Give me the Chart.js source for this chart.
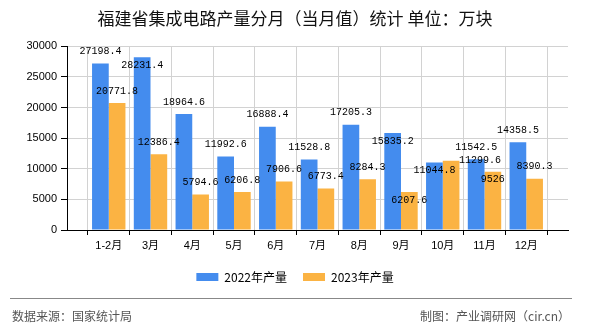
<!DOCTYPE html>
<html>
<head>
<meta charset="utf-8">
<script src="https://cdn.jsdelivr.net/npm/chart.js@4.4.0/dist/chart.umd.min.js"></script>
<style>
  html, body { margin: 0; padding: 0; background: #fff; }
</style>
</head>
<body>
<canvas id="prodChart" width="590" height="330"></canvas>
<script>
// 福建省集成电路产量（万块）
var categories = ['1-2月', '3月', '4月', '5月', '6月', '7月', '8月', '9月', '10月', '11月', '12月'];
var output2022 = [27198.4, 28231.4, 18964.6, 11992.6, 16888.4, 11528.8, 17205.3, 15835.2, 11044.8, 11542.5, 14358.5];
var output2023 = [20771.8, 12386.4, 5794.6, 6206.8, 7906.6, 6773.4, 8284.3, 6207.6, 11299.6, 9526, 8390.3];
var seriesNames = ['2022年产量', '2023年产量'];
var yMax = 30000;
var yStep = 5000;

var CJK = '"Noto Sans CJK SC", "Noto Sans", sans-serif';

// empty slot at each end so the bars sit on the grid lines
var xLabels = [''].concat(categories, ['']);
function pad(arr) { return [null].concat(arr, [null]); }

// where a value label goes, relative to the top of its bar (default [0, -12])
var labelShift = {
  '0-3月': [0, 8],
  '0-9月': [0, 8],
  '1-9月': [0, 8],
  '0-10月': [0, 8],
  '1-10月': [29, 0],
  '1-11月': [0, 8]
};

var barLabels = {
  id: 'barLabels',
  afterDatasetsDraw: function(chart) {
    var ctx = chart.ctx;
    ctx.save();
    ctx.font = '10px "Liberation Mono", monospace';
    ctx.fillStyle = '#000';
    ctx.textAlign = 'center';
    ctx.textBaseline = 'middle';
    chart.data.datasets.forEach(function(ds, di) {
      chart.getDatasetMeta(di).data.forEach(function(bar, i) {
        if (ds.data[i] == null) return;
        var s = labelShift[di + '-' + chart.data.labels[i]] || [0, -12];
        ctx.fillText(String(ds.data[i]), bar.x + s[0], bar.y + s[1]);
      });
    });
    ctx.restore();
  }
};

var footer = {
  id: 'footer',
  afterDraw: function(chart) {
    var ctx = chart.ctx;
    ctx.save();
    ctx.strokeStyle = '#888';
    ctx.lineWidth = 1;
    ctx.beginPath();
    ctx.moveTo(10, 298.5);
    ctx.lineTo(572, 298.5);
    ctx.stroke();
    ctx.font = '12px ' + CJK;
    ctx.fillStyle = '#555';
    ctx.textBaseline = 'middle';
    ctx.textAlign = 'left';
    ctx.fillText('数据来源：国家统计局', 12, 316);
    ctx.textAlign = 'right';
    ctx.fillText('制图：产业调研网（cir.cn）', 570, 316);
    ctx.restore();
  }
};

var ctx = document.getElementById('prodChart').getContext('2d');
var prodChart = new Chart(ctx, {
  type: 'bar',
  data: {
    labels: xLabels,
    datasets: [
      {
        label: seriesNames[0],
        data: pad(output2022),
        backgroundColor: '#448CEE'
      },
      {
        label: seriesNames[1],
        data: pad(output2023),
        backgroundColor: '#FBB343'
      }
    ]
  },
  options: {
    responsive: false,
    animation: false,
    datasets: {
      bar: { categoryPercentage: 0.8, barPercentage: 1.0 }
    },
    layout: {
      padding: { left: 0, right: 0, top: 0, bottom: 37 }
    },
    plugins: {
      title: {
        display: true,
        text: '福建省集成电路产量分月（当月值）统计 单位：万块',
        color: '#111',
        font: { size: 17, family: CJK, weight: 'normal' },
        padding: { top: 8, bottom: 18 }
      },
      legend: {
        position: 'bottom',
        labels: {
          boxWidth: 22,
          boxHeight: 8,
          padding: 16,
          color: '#000',
          font: { size: 12, family: CJK }
        }
      },
      tooltip: { enabled: false }
    },
    scales: {
      x: {
        offset: false,
        grid: { color: '#d2d2d2', tickColor: '#000', tickLength: 5 },
        border: { color: '#000' },
        ticks: {
          autoSkip: false,
          maxRotation: 0,
          padding: 4,
          color: '#000',
          font: { size: 11, family: '"Liberation Sans", ' + CJK }
        },
        afterFit: function(s) {
          s.height = 25;
          s.paddingRight = 22; // keeps the plot off the right edge, title stays centred on the page
        }
      },
      y: {
        min: 0,
        max: yMax,
        grid: { color: '#d2d2d2', tickColor: '#000', tickLength: 6 },
        border: { color: '#000' },
        ticks: {
          stepSize: yStep,
          padding: 4,
          color: '#000',
          font: { size: 11, family: '"Liberation Sans", sans-serif' },
          callback: function(v) { return String(v); }
        },
        afterFit: function(s) { s.width = 67; }
      }
    }
  },
  plugins: [barLabels, footer]
});
</script>
</body>
</html>
